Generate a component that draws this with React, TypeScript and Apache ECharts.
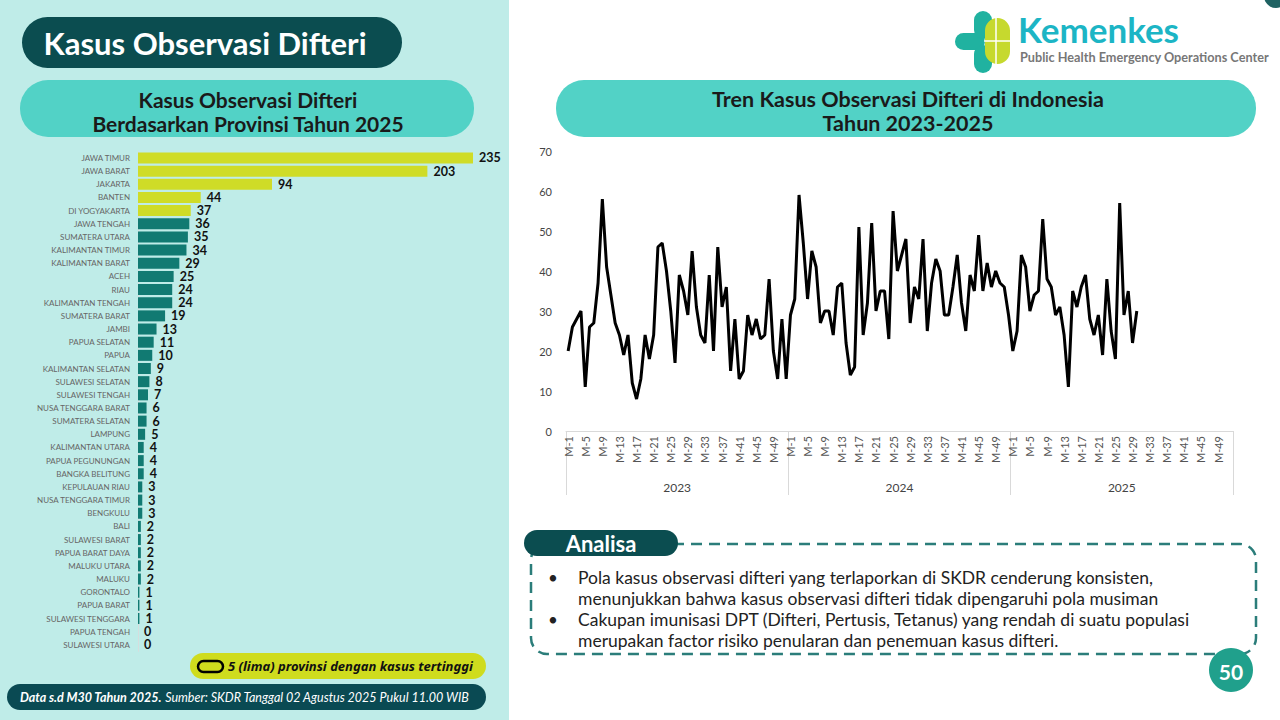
import React, { useEffect, useRef } from "react";
import * as echarts from "echarts";

// ---------- DATA ----------
const provinces = [
  "JAWA TIMUR", "JAWA BARAT", "JAKARTA", "BANTEN", "DI YOGYAKARTA", "JAWA TENGAH",
  "SUMATERA UTARA", "KALIMANTAN TIMUR", "KALIMANTAN BARAT", "ACEH", "RIAU",
  "KALIMANTAN TENGAH", "SUMATERA BARAT", "JAMBI", "PAPUA SELATAN", "PAPUA",
  "KALIMANTAN SELATAN", "SULAWESI SELATAN", "SULAWESI TENGAH", "NUSA TENGGARA BARAT",
  "SUMATERA SELATAN", "LAMPUNG", "KALIMANTAN UTARA", "PAPUA PEGUNUNGAN",
  "BANGKA BELITUNG", "KEPULAUAN RIAU", "NUSA TENGGARA TIMUR", "BENGKULU", "BALI",
  "SULAWESI BARAT", "PAPUA BARAT DAYA", "MALUKU UTARA", "MALUKU", "GORONTALO",
  "PAPUA BARAT", "SULAWESI TENGGARA", "PAPUA TENGAH", "SULAWESI UTARA",
];
const provinceCases = [
  235, 203, 94, 44, 37, 36, 35, 34, 29, 25, 24, 24, 19, 13, 11, 10, 9, 8, 7, 6, 6, 5,
  4, 4, 4, 3, 3, 3, 2, 2, 2, 2, 2, 1, 1, 1, 0, 0,
];
const topCount = 5;

const years = ["2023", "2024", "2025"];
const weeksPerYear = 52;
const cases2023 = [
  20, 26, 28, 30, 11, 26, 27, 37, 58, 41, 34, 27, 24, 19, 24, 12, 8, 13, 24, 18, 24, 46,
  47, 40, 30, 17, 39, 35, 29, 45, 31, 24, 22, 39, 20, 46, 31, 36, 15, 28, 13, 15, 29, 24,
  28, 23, 24, 38, 20, 13, 28, 13,
];
const cases2024 = [
  29, 33, 59, 47, 33, 45, 41, 27, 30, 30, 24, 36, 37, 22, 14, 16, 51, 24, 32, 52, 30, 35,
  35, 23, 55, 40, 44, 48, 27, 36, 33, 48, 25, 37, 43, 40, 29, 29, 36, 44, 32, 25, 39, 35,
  49, 35, 42, 36, 40, 37, 36, 29,
];
const cases2025 = [
  20, 25, 44, 41, 30, 34, 35, 53, 38, 36, 29, 31, 24, 11, 35, 31, 36, 39, 28, 24, 29, 19,
  38, 25, 18, 57, 29, 35, 22, 30,
];

const analysisLines = [
  "Pola kasus observasi difteri yang terlaporkan di SKDR cenderung konsisten,",
  "menunjukkan bahwa kasus observasi difteri tidak dipengaruhi pola musiman",
  "Cakupan imunisasi DPT (Difteri, Pertusis, Tetanus) yang rendah di suatu populasi",
  "merupakan factor risiko penularan dan penemuan kasus difteri.",
];

const FONT = "Lato, 'Noto Sans', sans-serif";
const NOTO = "'Noto Sans', 'Open Sans', sans-serif";
const DARK = "#0b4d50";
const PILL = "#52d2c6";
const YELLOW = "#cfdc27";
const TEAL = "#117a72";

export default function App() {
  const ref = useRef<HTMLDivElement>(null);

  useEffect(() => {
    if (!ref.current) return;
    const chart = echarts.init(ref.current, undefined, { renderer: "svg" });

    const weekCats: string[] = [];
    years.forEach(() => {
      for (let i = 1; i <= weeksPerYear; i++) weekCats.push("M-" + i);
    });
    const lineData = [...cases2023, ...cases2024, ...cases2025];

    const barData = provinceCases.map((v, i) => ({
      value: v,
      itemStyle: { color: i < topCount ? YELLOW : TEAL },
    }));

    const txt = (o: any) => ({ type: "text", z: 10, ...o });
    const lineYs = [577, 598, 619, 640];

    const graphic: any[] = [
      { type: "rect", z: -1, shape: { x: 0, y: 0, width: 509, height: 720 }, style: { fill: "#bfece8" } },
      // title pill
      { type: "rect", shape: { x: 22, y: 17, width: 380, height: 51, r: 25.5 }, style: { fill: DARK } },
      txt({ style: { text: "Kasus Observasi Difteri", x: 205, y: 43, align: "center", verticalAlign: "middle", fill: "#fff", font: `bold 31px ${FONT}` } }),
      // left subtitle
      { type: "rect", shape: { x: 20, y: 80, width: 454, height: 57, r: 28 }, style: { fill: PILL } },
      txt({ style: { text: "Kasus Observasi Difteri", x: 248, y: 99, align: "center", verticalAlign: "middle", fill: "#1a1a1a", font: `bold 21px ${FONT}` } }),
      txt({ style: { text: "Berdasarkan Provinsi Tahun 2025", x: 248, y: 123, align: "center", verticalAlign: "middle", fill: "#1a1a1a", font: `bold 21px ${FONT}` } }),
      // right subtitle
      { type: "rect", shape: { x: 556, y: 80, width: 700, height: 57, r: 28 }, style: { fill: PILL } },
      txt({ style: { text: "Tren Kasus Observasi Difteri di Indonesia", x: 908, y: 99, align: "center", verticalAlign: "middle", fill: "#1a1a1a", font: `bold 21.5px ${FONT}` } }),
      txt({ style: { text: "Tahun 2023-2025", x: 908, y: 123, align: "center", verticalAlign: "middle", fill: "#1a1a1a", font: `bold 21.5px ${FONT}` } }),
      // logo
      { type: "rect", shape: { x: 955, y: 33, width: 30, height: 17, r: 8.5 }, style: { fill: "#20b2a0" } },
      { type: "rect", shape: { x: 974, y: 11, width: 18, height: 28, r: 9 }, style: { fill: "#20b2a0" } },
      { type: "rect", shape: { x: 974, y: 45, width: 18, height: 28, r: 9 }, style: { fill: "#20b2a0" } },
      { type: "rect", shape: { x: 985, y: 18, width: 25, height: 46, r: 12.5 }, style: { fill: "#c6d92e" } },
      { type: "line", shape: { x1: 984, y1: 41, x2: 1011, y2: 41 }, style: { stroke: "#fff", lineWidth: 1.5 } },
      { type: "line", shape: { x1: 996, y1: 17, x2: 996, y2: 65 }, style: { stroke: "#fff", lineWidth: 1.5 } },
      txt({ style: { text: "Kemenkes", x: 1018, y: 29, verticalAlign: "middle", lineHeight: 30, fill: "#1cb5c5", font: `bold 35px ${FONT}` } }),
      txt({ style: { text: "Public Health Emergency Operations Center", x: 1020, y: 57, verticalAlign: "middle", lineHeight: 13, fill: "#777", font: `bold 12.7px ${FONT}` } }),
      { type: "circle", shape: { cx: 1276, cy: -4, r: 12 }, style: { fill: "#1f6262" } },
      // legend pill
      { type: "rect", shape: { x: 190, y: 653, width: 296, height: 26, r: 13 }, style: { fill: "#cfdc1e" } },
      { type: "rect", shape: { x: 198, y: 661, width: 25, height: 11, r: 5.5 }, style: { fill: "none", stroke: "#000", lineWidth: 2.5 } },
      txt({ style: { text: "5 (lima) provinsi dengan kasus tertinggi", x: 228, y: 666, verticalAlign: "middle", fill: "#111", font: `italic bold 13px ${NOTO}` } }),
      // footer pill
      { type: "rect", shape: { x: 7, y: 684, width: 479, height: 26, r: 13 }, style: { fill: "#0a4a53" } },
      txt({
        style: {
          text: "{b|Data s.d M30 Tahun 2025.} {n|Sumber: SKDR Tanggal 02 Agustus 2025 Pukul 11.00 WIB}",
          x: 20, y: 697, verticalAlign: "middle",
          rich: {
            b: { fill: "#fff", font: `italic bold 12.5px ${FONT}` },
            n: { fill: "#fff", font: `italic 12.5px ${FONT}` },
          },
        },
      }),
      // analysis box
      { type: "rect", shape: { x: 531, y: 544, width: 725, height: 110, r: 16 }, style: { fill: "none", stroke: "#2b7d7a", lineWidth: 2.5, lineDash: [11, 7] } },
      { type: "rect", shape: { x: 524, y: 530, width: 154, height: 26, r: 13 }, style: { fill: DARK } },
      txt({ style: { text: "Analisa", x: 601, y: 543, align: "center", verticalAlign: "middle", fill: "#fff", font: `bold 22px ${FONT}` } }),
      txt({ style: { text: "•", x: 548, y: lineYs[0], verticalAlign: "middle", fill: "#222", font: `17px ${FONT}` } }),
      txt({ style: { text: "•", x: 548, y: lineYs[2], verticalAlign: "middle", fill: "#222", font: `17px ${FONT}` } }),
      ...analysisLines.map((t, i) =>
        txt({ style: { text: t, x: 578, y: lineYs[i], verticalAlign: "middle", fill: "#222", font: `17.5px ${FONT}` } })
      ),
      // page badge
      { type: "circle", shape: { cx: 1231, cy: 670, r: 22 }, style: { fill: "#20a08c" } },
      txt({ style: { text: "50", x: 1231, y: 671, align: "center", verticalAlign: "middle", fill: "#fff", font: `bold 21px ${FONT}` } }),
    ];

    chart.setOption({
      animation: false,
      textStyle: { fontFamily: FONT },
      graphic,
      grid: [
        { left: 138, top: 151.4, width: 335, height: 500 },
        { left: 566, top: 151, width: 667, height: 280 },
      ],
      xAxis: [
        { gridIndex: 0, type: "value", min: 0, max: 235, show: false },
        {
          gridIndex: 1,
          type: "category",
          data: weekCats,
          boundaryGap: true,
          axisLine: { show: true, lineStyle: { color: "#d9d9d9" } },
          axisTick: { show: false },
          axisLabel: { interval: 3, rotate: 90, fontSize: 11, color: "#555", margin: 5 },
        },
        {
          gridIndex: 1,
          type: "category",
          data: years,
          position: "bottom",
          boundaryGap: true,
          axisLine: { show: false },
          axisTick: { show: true, interval: 0, length: 64, lineStyle: { color: "#d9d9d9" } },
          axisLabel: { interval: 0, margin: 50, fontSize: 12, color: "#444" },
        },
      ],
      yAxis: [
        {
          gridIndex: 0,
          type: "category",
          data: provinces,
          inverse: true,
          axisLine: { show: true, lineStyle: { color: "#d5dede" } },
          axisTick: { show: false },
          axisLabel: { fontSize: 8, color: "#666", margin: 8, lineHeight: 9 },
        },
        {
          gridIndex: 1,
          type: "value",
          min: 0,
          max: 70,
          interval: 10,
          axisLine: { show: false },
          axisTick: { show: false },
          splitLine: { show: false },
          axisLabel: { fontSize: 11, color: "#444", margin: 14 },
        },
      ],
      series: [
        {
          type: "bar",
          xAxisIndex: 0,
          yAxisIndex: 0,
          data: barData,
          barWidth: 11,
          label: { show: true, position: "right", distance: 6, fontSize: 12.5, lineHeight: 11, fontWeight: "bold", color: "#111" },
        },
        {
          type: "line",
          xAxisIndex: 1,
          yAxisIndex: 1,
          data: lineData,
          symbol: "none",
          lineStyle: { color: "#000", width: 3 },
        },
      ],
    });

    return () => chart.dispose();
  }, []);

  return (
    <div
      ref={ref}
      style={{ position: "fixed", left: 0, top: 0, width: 1280, height: 720, background: "#fff" }}
    />
  );
}
